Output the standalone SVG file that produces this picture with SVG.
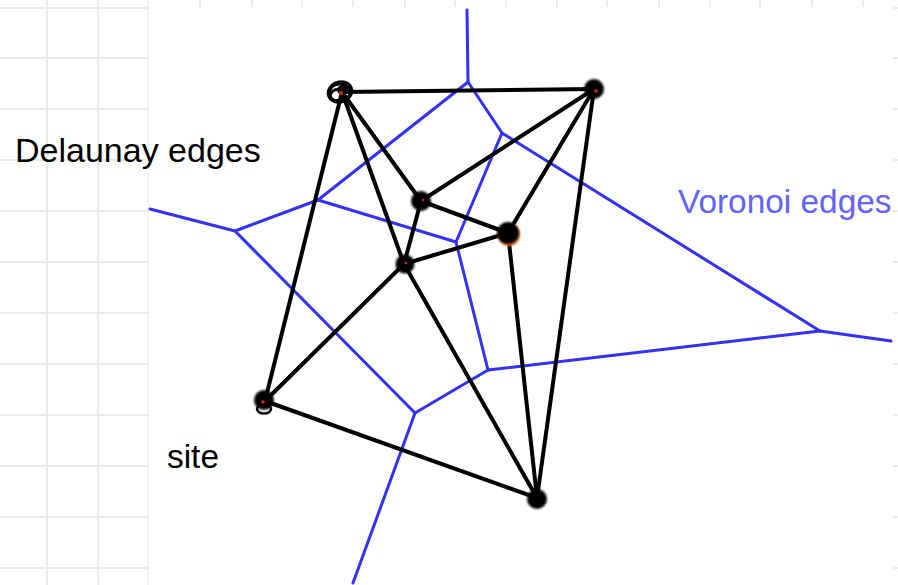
<svg xmlns="http://www.w3.org/2000/svg" width="898" height="585" viewBox="0 0 898 585">
<style>
.grid line{stroke:#ebebeb;stroke-width:2}
.vor line{stroke:#3030f8;stroke-width:3;stroke-linecap:round}
.del line{stroke:#000;stroke-width:4;stroke-linecap:round}
.site{fill:#050505}
.red{fill:#e0201a}
.lbl{font-family:"Liberation Sans",Arial,sans-serif;font-size:34px}
</style>
<defs>
<filter id="soft" x="-20%" y="-20%" width="140%" height="140%"><feGaussianBlur stdDeviation="0.5"/></filter>
<filter id="soft2" x="-50%" y="-50%" width="200%" height="200%"><feGaussianBlur stdDeviation="0.8"/></filter>
</defs>
<rect width="898" height="585" fill="#fff"/>
<g class="grid">
<line x1="47" y1="0" x2="47" y2="585"/>
<line x1="98" y1="0" x2="98" y2="585"/>
<line x1="148" y1="0" x2="148" y2="585" style="stroke-width:1"/>
<line x1="0" y1="8" x2="898" y2="8"/>
<line x1="0" y1="58" x2="898" y2="58"/>
<line x1="0" y1="109" x2="898" y2="109"/>
<line x1="0" y1="160" x2="898" y2="160"/>
<line x1="0" y1="211" x2="898" y2="211"/>
<line x1="0" y1="262" x2="898" y2="262"/>
<line x1="0" y1="313" x2="898" y2="313"/>
<line x1="0" y1="364" x2="898" y2="364"/>
<line x1="0" y1="415" x2="898" y2="415"/>
<line x1="0" y1="466" x2="898" y2="466"/>
<line x1="0" y1="517" x2="898" y2="517"/>
<line x1="0" y1="568" x2="898" y2="568"/>
<line x1="200" y1="0" x2="200" y2="8"/>
<line x1="252" y1="0" x2="252" y2="8"/>
<line x1="302" y1="0" x2="302" y2="8"/>
<line x1="353" y1="0" x2="353" y2="8"/>
<line x1="405" y1="0" x2="405" y2="8"/>
<line x1="455" y1="0" x2="455" y2="8"/>
<line x1="506" y1="0" x2="506" y2="8"/>
<line x1="557" y1="0" x2="557" y2="8"/>
<line x1="607" y1="0" x2="607" y2="8"/>
<line x1="659" y1="0" x2="659" y2="8"/>
<line x1="710" y1="0" x2="710" y2="8"/>
<line x1="760" y1="0" x2="760" y2="8"/>
<line x1="812" y1="0" x2="812" y2="8"/>
<line x1="863" y1="0" x2="863" y2="8"/>
</g>
<rect x="149" y="7" width="744" height="578" fill="#fff"/>
<g id="voronoi-edges" class="vor" filter="url(#soft)">
<line x1="467" y1="10" x2="468" y2="82"/>
<line x1="468" y1="82" x2="318" y2="200"/>
<line x1="468" y1="82" x2="502" y2="133"/>
<line x1="150" y1="209" x2="235" y2="231"/>
<line x1="235" y1="231" x2="318" y2="200"/>
<line x1="235" y1="231" x2="415" y2="413"/>
<line x1="318" y1="200" x2="456" y2="242"/>
<line x1="456" y1="242" x2="502" y2="133"/>
<line x1="456" y1="242" x2="488" y2="370"/>
<line x1="502" y1="133" x2="820" y2="331"/>
<line x1="820" y1="331" x2="891" y2="341"/>
<line x1="820" y1="331" x2="488" y2="370"/>
<line x1="488" y1="370" x2="415" y2="413"/>
<line x1="415" y1="413" x2="353" y2="583"/>
</g>
<g id="delaunay-edges" class="del">
<line x1="342" y1="92" x2="594" y2="89"/>
<line x1="342" y1="92" x2="421" y2="201"/>
<line x1="342" y1="92" x2="404" y2="264"/>
<line x1="342" y1="92" x2="265" y2="401"/>
<line x1="594" y1="89" x2="421" y2="201"/>
<line x1="594" y1="89" x2="508" y2="233"/>
<line x1="594" y1="89" x2="537" y2="498"/>
<line x1="421" y1="201" x2="508" y2="233"/>
<line x1="421" y1="201" x2="404" y2="264"/>
<line x1="508" y1="233" x2="404" y2="264"/>
<line x1="508" y1="233" x2="537" y2="498"/>
<line x1="404" y1="264" x2="265" y2="401"/>
<line x1="404" y1="264" x2="537" y2="498"/>
<line x1="265" y1="401" x2="537" y2="498"/>
</g>
<g id="site-1" filter="url(#soft)">
<ellipse cx="340" cy="92" rx="11.5" ry="9.5" transform="rotate(-20 340 92)" fill="none" stroke="#000" stroke-width="4"/>
<ellipse cx="337" cy="95" rx="7" ry="5.5" transform="rotate(-20 337 95)" fill="none" stroke="#000" stroke-width="3"/>
<ellipse cx="343" cy="90" rx="6" ry="5" fill="#000"/>
<path d="M332 86 Q342 81 350 88" fill="none" stroke="#000" stroke-width="3"/>
<circle class="red" cx="341" cy="93" r="2"/>
</g>
<g id="site-2">
<circle class="site" cx="594" cy="89" r="10" filter="url(#soft2)"/>
<circle class="red" cx="596" cy="91" r="1.8"/>
</g>
<g id="site-3">
<circle class="site" cx="421" cy="201" r="10" filter="url(#soft2)"/>
<circle class="red" cx="423" cy="200" r="1.3"/>
</g>
<g id="site-4">
<circle cx="509" cy="235" r="11" fill="#f07020" filter="url(#soft2)"/>
<circle class="site" cx="508" cy="233" r="11" filter="url(#soft2)"/>
</g>
<g id="site-5">
<circle class="site" cx="405" cy="264" r="9.5" filter="url(#soft2)"/>
<circle class="red" cx="406" cy="263" r="1.3"/>
</g>
<g id="site-6">
<circle class="site" cx="264" cy="400" r="10" filter="url(#soft2)"/>
<ellipse cx="264" cy="409" rx="7" ry="4.5" fill="none" stroke="#000" stroke-width="2.5" filter="url(#soft)"/>
<circle class="red" cx="263" cy="402" r="1.8"/>
</g>
<g id="site-7">
<circle class="site" cx="537" cy="499" r="10" filter="url(#soft2)"/>
</g>
<text class="lbl" x="15" y="162" fill="#000">Delaunay edges</text>
<text class="lbl" x="678" y="213" fill="#6262ff" style="font-size:33.4px">Voronoi edges</text>
<text class="lbl" x="167" y="468" fill="#000" style="font-size:33.4px">site</text>
</svg>
